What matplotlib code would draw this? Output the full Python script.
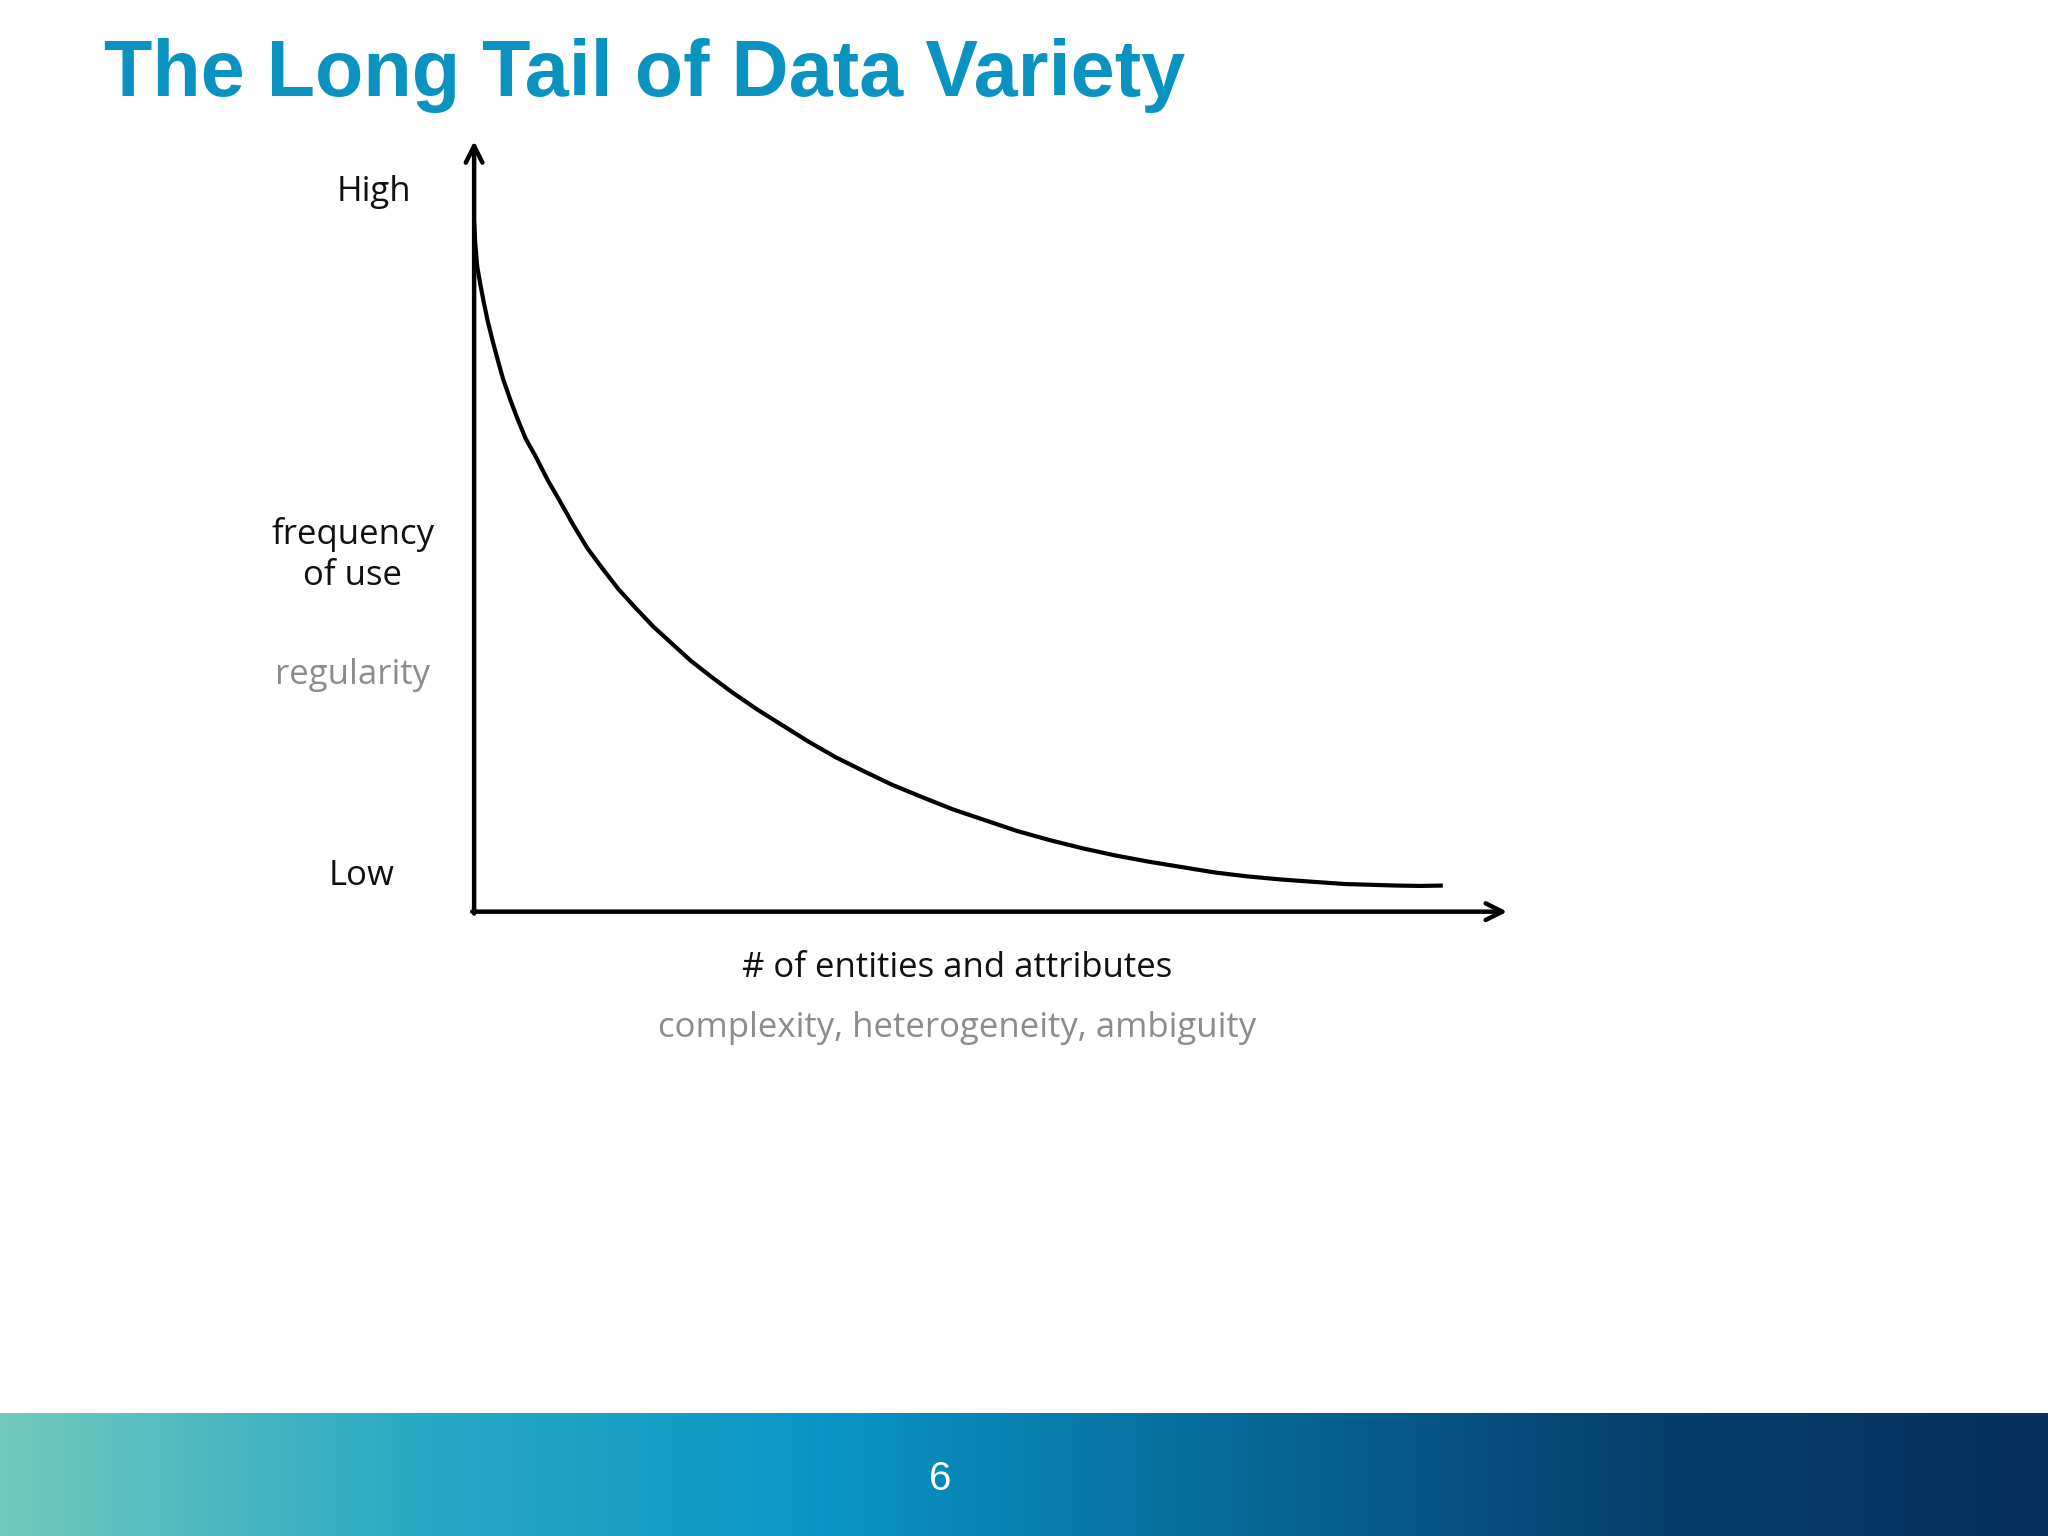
import numpy as np
import matplotlib
matplotlib.use("Agg")
import matplotlib.pyplot as plt
from matplotlib.colors import LinearSegmentedColormap

# data (normalized 0-100 along each axis)
curve_x = [0, 0.1, 0.3, 0.6, 0.9, 1.3, 1.8, 2.3, 2.8, 3.5, 4.2, 5.0, 6.0, 7.1, 8.3, 9.6, 11.0, 12.5, 14.0, 15.7, 17.4, 19.2,
           21.0, 23.0, 25.0, 27.5, 30.0, 32.5, 35.1, 37.8, 40.6, 43.5, 46.5, 49.6, 52.7, 55.9, 59.2, 62.3, 65.5, 68.7,
           71.9, 75.0, 78.2, 81.3, 84.5, 87.0, 89.5, 91.8, 94.0]
curve_y = [89.8, 87.2, 84.0, 81.7, 79.6, 77.0, 74.3, 71.8, 69.4, 66.7, 64.2, 61.6, 59.2, 56.3, 53.5, 50.4, 47.3, 44.6, 42.0,
           39.5, 37.1, 34.9, 32.7, 30.6, 28.6, 26.3, 24.2, 22.1, 20.1, 18.3, 16.5, 14.9, 13.3, 11.9, 10.5, 9.3, 8.2,
           7.3, 6.5, 5.8, 5.1, 4.6, 4.2, 3.9, 3.6, 3.5, 3.4, 3.35, 3.4]
y_labels = ["High", "frequency\nof use", "regularity", "Low"]
x_labels = ["# of entities and attributes", "complexity, heterogeneity, ambiguity"]
title = "The Long Tail of Data Variety"
page = "6"

W, H = 1568, 1176
fig = plt.figure(figsize=(20.48, 15.36), dpi=100)
fig.patch.set_facecolor("white")
bg = fig.add_axes([0, 0, 1, 1])
bg.set_xlim(0, W); bg.set_ylim(H, 0); bg.axis("off")

cmap = LinearSegmentedColormap.from_list("b", ["#72c9bd", "#2aa9c4", "#0a96c6", "#066a9a", "#06406e", "#052f5c"])
grad = np.linspace(0, 1, 512)[None, :]
bg.imshow(grad, cmap=cmap, extent=[0, W, H, 1082], aspect="auto", zorder=0)
bg.text(720, 1132, page, color="white", fontsize=29, ha="center", va="center", family="Liberation Sans")

bg.text(80, 58, title, color="#0a93c1", fontsize=57, fontweight="bold", ha="left", va="center", family="Liberation Sans")

ox, oy = 363, 698
ap = dict(arrowstyle="->,head_length=1.2,head_width=0.6", lw=3.2, color="black", shrinkA=0, shrinkB=0)
bg.annotate("", xy=(ox, 108), xytext=(ox, oy + 1.5), arrowprops=ap)
bg.annotate("", xy=(1154, oy), xytext=(ox - 1.5, oy), arrowprops=ap)

fs = 25
f = "Open Sans"
bg.text(286, 147, y_labels[0], fontsize=fs, ha="center", va="center", family=f, color="#111111")
bg.text(270, 425, y_labels[1], fontsize=fs, ha="center", va="center", family=f, color="#111111", linespacing=1.25)
bg.text(270, 517, y_labels[2], fontsize=fs, ha="center", va="center", family=f, color="#8c8c8c")
bg.text(277, 671, y_labels[3], fontsize=fs, ha="center", va="center", family=f, color="#111111")
bg.text(733, 741, x_labels[0], fontsize=fs, ha="center", va="center", family=f, color="#111111")
bg.text(733, 787, x_labels[1], fontsize=fs, ha="center", va="center", family=f, color="#8c8c8c")

ax = fig.add_axes([ox / W, 1 - oy / H, (1152 - ox) / W, (oy - 110) / H])
ax.set_xlim(0, 100); ax.set_ylim(0, 100); ax.axis("off"); ax.patch.set_alpha(0)
ax.plot(curve_x, curve_y, color="black", lw=3, solid_capstyle="butt", solid_joinstyle="round")

fig.savefig("out.png", dpi=100)
